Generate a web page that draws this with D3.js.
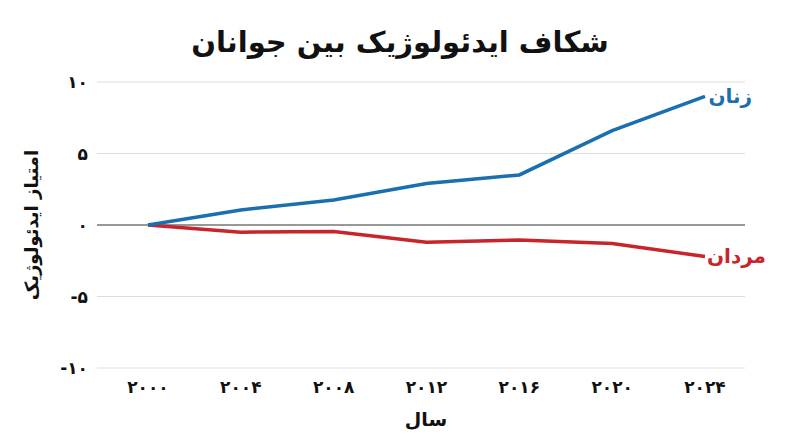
<!DOCTYPE html>
<html><head><meta charset="utf-8">
<script src="https://cdn.jsdelivr.net/npm/d3@7"></script>
<style>body{margin:0;background:#fff}text{font-family:"DejaVu Sans",sans-serif;font-weight:bold}</style>
</head><body><svg id="c" width="800" height="447"></svg>
<script>
const years=[2000,2004,2008,2012,2016,2020,2024];
const yearLabels=["۲۰۰۰","۲۰۰۴","۲۰۰۸","۲۰۱۲","۲۰۱۶","۲۰۲۰","۲۰۲۴"];
const women=[0,1.05,1.75,2.9,3.5,6.6,9.0];
const men=[0,-0.5,-0.45,-1.2,-1.05,-1.3,-2.2];
const yTicks=[-10,-5,0,5,10];
const yTickLabels={"-10":"-۱۰","-5":"-۵","0":"۰","5":"۵","10":"۱۰"};
const svg=d3.select("#c");
const x=d3.scaleLinear().domain([2000,2024]).range([148,705]);
const y=d3.scaleLinear().domain([-10,10]).range([368,82]);
svg.selectAll(".g").data(yTicks).enter().append("line")
 .attr("x1",97).attr("x2",745).attr("y1",d=>y(d)).attr("y2",d=>y(d))
 .attr("stroke",d=>d===0?"#333":"#ddd").attr("stroke-width",d=>d===0?1.2:1.2);
svg.selectAll(".yl").data(yTicks).enter().append("text")
 .attr("x",88).attr("y",d=>y(d)+6).attr("text-anchor","end").attr("font-size",17).attr("fill","#111")
 .text(d=>yTickLabels[d]);
svg.selectAll(".xl").data(years).enter().append("text")
 .attr("x",d=>x(d)).attr("y",393).attr("text-anchor","middle").attr("font-size",17).attr("fill","#111")
 .text((d,i)=>yearLabels[i]);
const line=d3.line().x((d,i)=>x(years[i])).y(d=>y(d));
svg.append("path").attr("d",line(men)).attr("fill","none").attr("stroke","#c8242b").attr("stroke-width",3.5);
svg.append("path").attr("d",line(women)).attr("fill","none").attr("stroke","#1a6faf").attr("stroke-width",3.5);
svg.append("text").attr("x",752).attr("y",y(9)+7).attr("text-anchor","end").attr("font-size",20).attr("fill","#1a6faf").text("زنان");
svg.append("text").attr("x",766).attr("y",y(-2.2)+7).attr("text-anchor","end").attr("font-size",20).attr("fill","#c8242b").text("مردان");
svg.append("text").attr("x",400).attr("y",52).attr("text-anchor","middle").attr("font-size",29).attr("fill","#111").text("شکاف ایدئولوژیک بین جوانان");
svg.append("text").attr("x",426).attr("y",426).attr("text-anchor","middle").attr("font-size",19).attr("fill","#111").text("سال");
svg.append("text").attr("transform","translate(38,225) rotate(-90)").attr("text-anchor","middle").attr("font-size",18).attr("fill","#111").text("امتیاز ایدئولوژیک");
</script></body></html>
